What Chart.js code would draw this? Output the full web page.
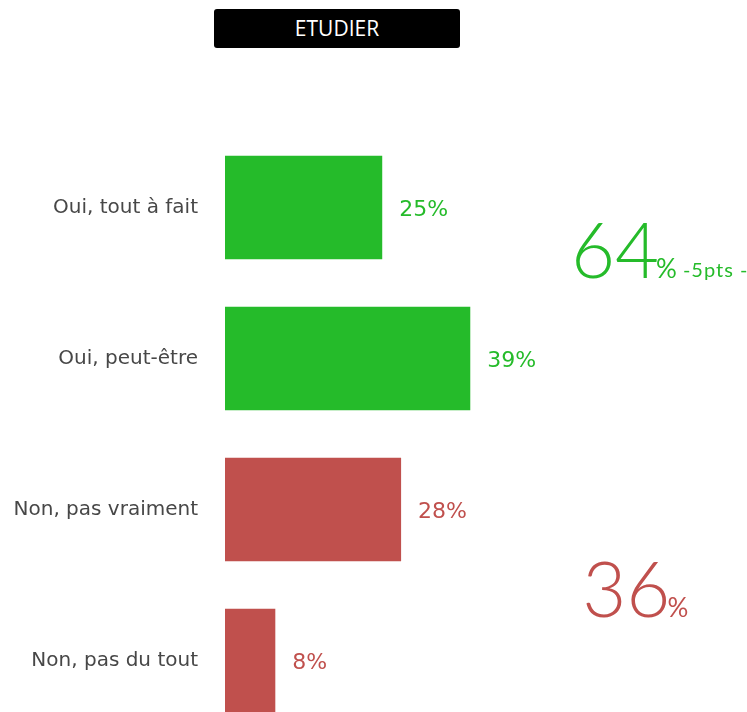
<!DOCTYPE html>
<html>
<head>
<meta charset="utf-8">
<script src="https://cdn.jsdelivr.net/npm/chart.js@4/dist/chart.umd.min.js"></script>
<style>
  html, body { margin: 0; padding: 0; background: #fff; overflow: hidden; }
  #title {
    position: absolute; left: 214px; top: 9px; width: 246px; height: 39px;
    background: #000; border-radius: 3px; color: #fff;
    font-family: "Open Sans", sans-serif; font-size: 21px; font-weight: 400;
    line-height: 39px; text-align: center; z-index: 2;
  }
  #box { position: absolute; left: 0; top: 0; width: 747px; height: 775px; }
</style>
</head>
<body>
<div id="title">ETUDIER</div>
<div id="box"><canvas id="chart"></canvas></div>
<script>
// Data
const categories = ['Oui, tout à fait', 'Oui, peut-être', 'Non, pas vraiment', 'Non, pas du tout'];
const values = [25, 39, 28, 8];
const barColors = ['#25bb2a', '#25bb2a', '#c0504d', '#c0504d'];
const yesTotal = values[0] + values[1];
const noTotal = values[2] + values[3];
const yesDelta = '-5pts -';

const FONT = '"DejaVu Sans", sans-serif';
const BIG_FONT = 'Lato, sans-serif';

// Draws "xx%" next to each bar and the two big totals
const labelsPlugin = {
    id: 'labelsPlugin',
    afterDatasetsDraw(chart) {
        const ctx = chart.ctx;
        const meta = chart.getDatasetMeta(0);
        const x = chart.scales.x;
        const y = chart.scales.y;

        ctx.save();
        ctx.textBaseline = 'middle';
        ctx.textAlign = 'left';
        ctx.font = '22px ' + FONT;
        meta.data.forEach((bar, i) => {
            ctx.fillStyle = barColors[i];
            ctx.fillText(values[i] + '%', bar.x + 17, bar.y + 3);
        });

        // big totals
        ctx.textBaseline = 'alphabetic';
        let px = x.getPixelForValue(55);
        let py = y.getPixelForValue(0.5) - 5;
        ctx.fillStyle = '#25bb2a';
        ctx.font = '300 76px ' + BIG_FONT;
        ctx.fillText(String(yesTotal), px, py);
        let w = ctx.measureText(String(yesTotal)).width;
        ctx.font = '26px ' + BIG_FONT;
        ctx.fillText('%', px + w - 3, py);
        let w2 = ctx.measureText('%').width;
        ctx.font = '20px ' + BIG_FONT;
        ctx.letterSpacing = '1px';
        ctx.fillText(yesDelta, px + w + w2 + 3, py - 1);
        ctx.letterSpacing = '0px';

        px = x.getPixelForValue(56.8);
        py = y.getPixelForValue(2.5) + 32;
        ctx.fillStyle = '#c0504d';
        ctx.font = '300 76px ' + BIG_FONT;
        ctx.fillText(String(noTotal), px, py);
        w = ctx.measureText(String(noTotal)).width;
        ctx.font = '26px ' + BIG_FONT;
        ctx.fillText('%', px + w - 3, py);
        ctx.restore();
    }
};

new Chart(document.getElementById('chart'), {
    type: 'bar',
    data: {
        labels: categories,
        datasets: [{
            data: values,
            backgroundColor: barColors,
            borderWidth: 0,
            categoryPercentage: 1,
            barPercentage: 0.685
        }]
    },
    options: {
        responsive: true,
        maintainAspectRatio: false,
        animation: false,
        indexAxis: 'y',
        layout: { padding: { left: 0, right: 0, top: 132, bottom: 2 } },
        plugins: {
            legend: { display: false },
            tooltip: { enabled: false }
        },
        scales: {
            x: {
                min: 0, max: 83,
                display: false,
                grid: { display: false }
            },
            y: {
                grid: { display: false, drawTicks: false },
                border: { display: false },
                ticks: {
                    color: '#474747',
                    padding: 27,
                    font: { family: FONT, size: 20 }
                },
                afterFit(scale) { scale.width = 225; }
            }
        }
    },
    plugins: [labelsPlugin]
});
</script>
</body>
</html>
